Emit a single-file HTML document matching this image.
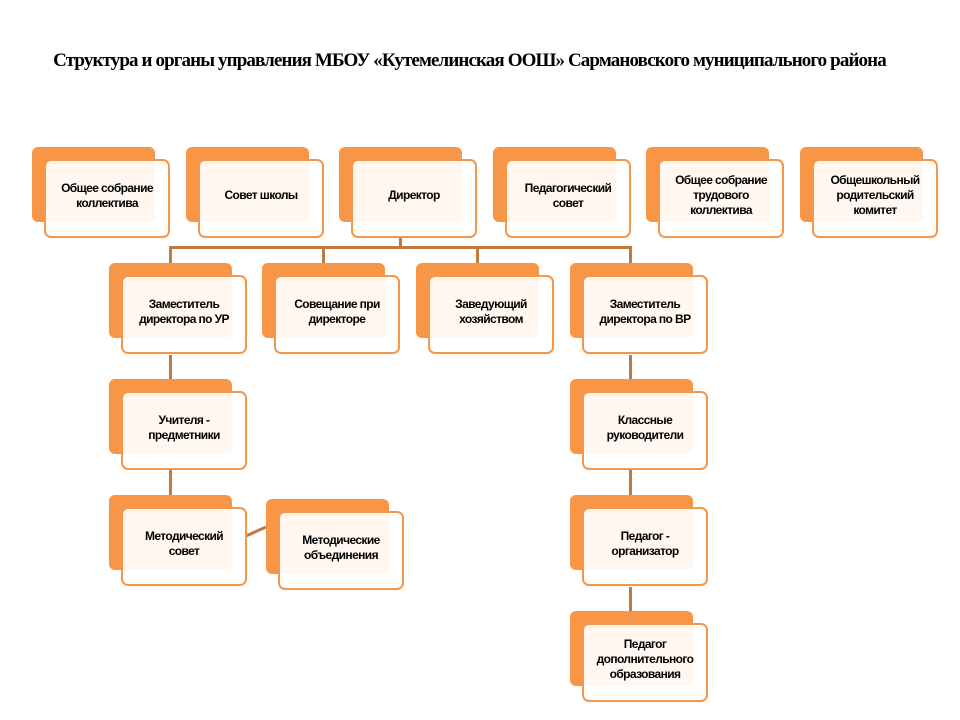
<!DOCTYPE html>
<html><head><meta charset="utf-8"><style>
body{margin:0;width:960px;height:720px;background:#fff;position:relative;overflow:hidden;font-family:"Liberation Sans",sans-serif}
.t{position:absolute;left:0;width:939px;top:50px;text-align:center;font:bold 19px "Liberation Serif",serif;letter-spacing:-0.88px;color:#000;white-space:nowrap}
.b{position:absolute;width:123px;height:75px;background:#f79646;border-radius:6px}
.f{position:absolute;width:122px;height:69px;border:2px solid #f79646;background:rgba(255,255,255,0.92);border-radius:7px;display:flex;align-items:center;justify-content:center;text-align:center;font-weight:bold;font-size:12px;letter-spacing:-0.6px;line-height:15px;color:#000;padding-bottom:6px;box-sizing:content-box}
.l{position:absolute;background:#c07a40}
</style></head><body>
<div class="t">Структура и органы управления МБОУ «Кутемелинская ООШ» Сармановского муниципального района</div>
<div class="l" style="left:169px;top:246px;width:463px;height:3px"></div>
<div class="l" style="left:399px;top:238px;width:3px;height:10px"></div>
<div class="l" style="left:169px;top:246px;width:3px;height:17px"></div>
<div class="l" style="left:322px;top:246px;width:3px;height:17px"></div>
<div class="l" style="left:476px;top:246px;width:3px;height:17px"></div>
<div class="l" style="left:629px;top:246px;width:3px;height:17px"></div>
<div class="l" style="left:169px;top:355px;width:3px;height:24px"></div>
<div class="l" style="left:169px;top:470px;width:3px;height:25px"></div>
<div class="l" style="left:629px;top:355px;width:3px;height:24px"></div>
<div class="l" style="left:629px;top:470px;width:3px;height:25px"></div>
<div class="l" style="left:629px;top:587px;width:3px;height:24px"></div>
<svg style="position:absolute;left:0;top:0" width="960" height="720"><line x1="246" y1="536" x2="266" y2="527" stroke="#c07a40" stroke-width="3"/></svg>

<div class="b" style="left:32px;top:147px"></div><div class="f" style="left:44px;top:159px">Общее собрание<br>коллектива</div>
<div class="b" style="left:186px;top:147px"></div><div class="f" style="left:198px;top:159px">Совет школы</div>
<div class="b" style="left:339px;top:147px"></div><div class="f" style="left:351px;top:159px">Директор</div>
<div class="b" style="left:493px;top:147px"></div><div class="f" style="left:505px;top:159px">Педагогический<br>совет</div>
<div class="b" style="left:646px;top:147px"></div><div class="f" style="left:658px;top:159px">Общее собрание<br>трудового<br>коллектива</div>
<div class="b" style="left:800px;top:147px"></div><div class="f" style="left:812px;top:159px">Общешкольный<br>родительский<br>комитет</div>

<div class="b" style="left:109px;top:263px"></div><div class="f" style="left:121px;top:275px">Заместитель<br>директора по УР</div>
<div class="b" style="left:262px;top:263px"></div><div class="f" style="left:274px;top:275px">Совещание при<br>директоре</div>
<div class="b" style="left:416px;top:263px"></div><div class="f" style="left:428px;top:275px">Заведующий<br>хозяйством</div>
<div class="b" style="left:570px;top:263px"></div><div class="f" style="left:582px;top:275px">Заместитель<br>директора по ВР</div>

<div class="b" style="left:109px;top:379px"></div><div class="f" style="left:121px;top:391px">Учителя -<br>предметники</div>
<div class="b" style="left:570px;top:379px"></div><div class="f" style="left:582px;top:391px">Классные<br>руководители</div>

<div class="b" style="left:109px;top:495px"></div><div class="f" style="left:121px;top:507px">Методический<br>совет</div>
<div class="b" style="left:266px;top:499px"></div><div class="f" style="left:278px;top:511px">Методические<br>объединения</div>
<div class="b" style="left:570px;top:495px"></div><div class="f" style="left:582px;top:507px">Педагог -<br>организатор</div>

<div class="b" style="left:570px;top:611px"></div><div class="f" style="left:582px;top:623px">Педагог<br>дополнительного<br>образования</div>
</body></html>
